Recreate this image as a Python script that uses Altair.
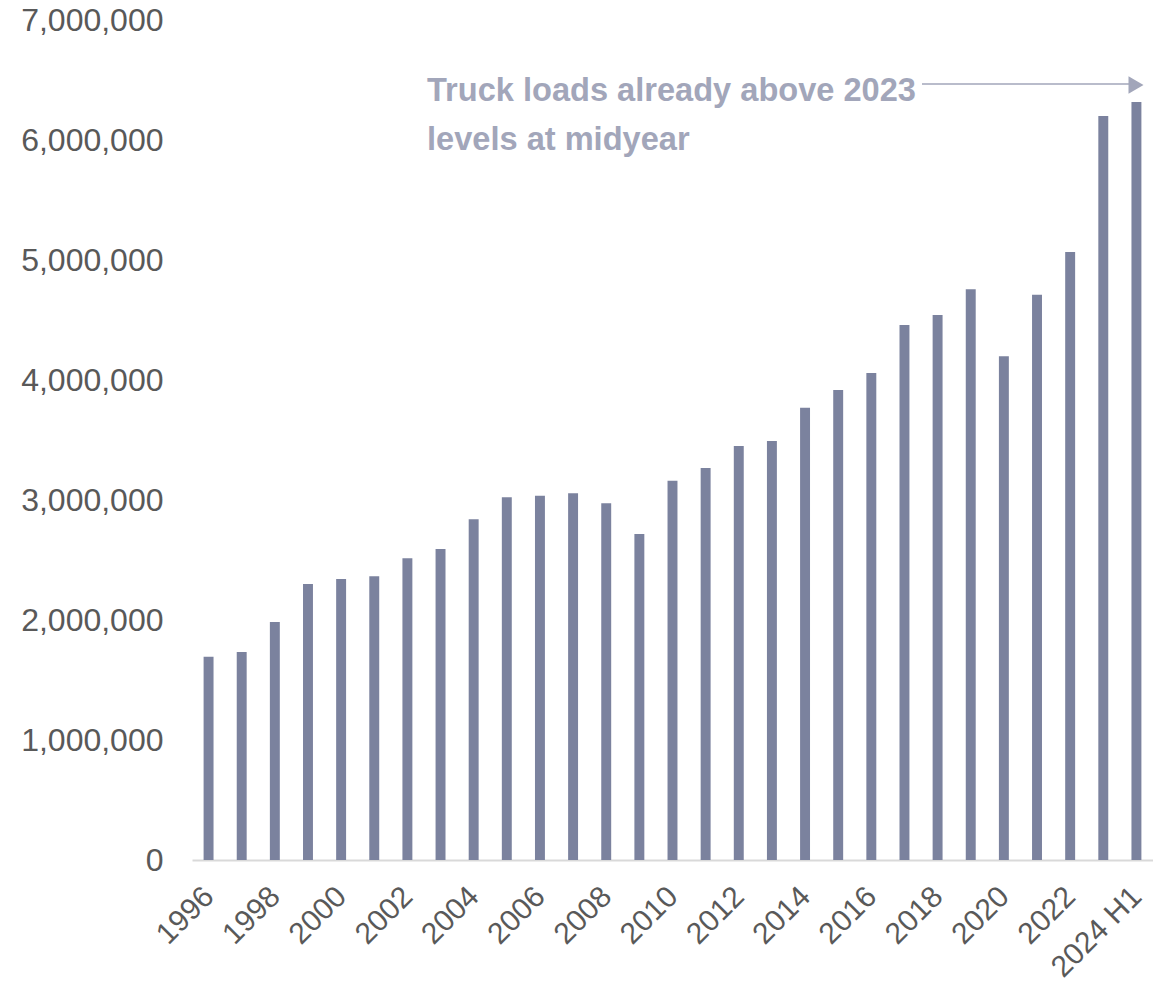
import altair as alt
import pandas as pd

years = ["1996", "1997", "1998", "1999", "2000", "2001", "2002", "2003", "2004",
         "2005", "2006", "2007", "2008", "2009", "2010", "2011", "2012", "2013",
         "2014", "2015", "2016", "2017", "2018", "2019", "2020", "2021", "2022",
         "2023", "2024 H1"]
loads = [1694000, 1733000, 1983000, 2300000, 2342000, 2364000, 2514000, 2592000,
         2839000, 3022000, 3036000, 3056000, 2972000, 2717000, 3161000, 3267000,
         3450000, 3492000, 3769000, 3917000, 4058000, 4458000, 4542000, 4756000,
         4197000, 4711000, 5067000, 6200000, 6317000]
y_ticks = [0, 1000000, 2000000, 3000000, 4000000, 5000000, 6000000, 7000000]
annotation_lines = ["Truck loads already above 2023", "levels at midyear"]

df = pd.DataFrame({"year": years, "loads": loads})

FONT = "Liberation Sans"
BAR = "#7b829e"
NOTE = "#a2a6ba"

x_enc = alt.X("year:N", sort=None, title=None,
              scale=alt.Scale(paddingInner=0.7, paddingOuter=0.35),
              axis=alt.Axis(values=years[::2], labelAngle=-45, labelAlign="right",
                            labelBaseline="top", labelFontSize=30, labelColor="#595959",
                            labelFont=FONT, labelPadding=21, labelOffset=-10,
                            ticks=False, tickSize=0, domainColor="#d9d9d9",
                            domainWidth=2, grid=False))
y_enc = alt.Y("loads:Q", title=None,
              scale=alt.Scale(domain=[0, 7000000], nice=False),
              axis=alt.Axis(values=y_ticks, format=",d", labelFontSize=32,
                            labelColor="#595959", labelFont=FONT, labelPadding=29,
                            ticks=False, domain=False, grid=False))

bars = alt.Chart(df).mark_bar(color=BAR).encode(x=x_enc, y=y_enc)

note_df = pd.DataFrame({"t": [annotation_lines]})
note = alt.Chart(note_df).mark_text(
    align="left", baseline="alphabetic", font=FONT, fontSize=32.6, fontWeight="bold",
    color=NOTE, lineHeight=49
).encode(text="t:N", x=alt.value(235), y=alt.value(81))

arrow_line = alt.Chart(note_df).mark_rule(color=NOTE, strokeWidth=1.5).encode(
    x=alt.value(730), x2=alt.value(940), y=alt.value(64))
arrow_head = alt.Chart(note_df).mark_point(
    shape="triangle-right", filled=True, color=NOTE, opacity=1, size=300
).encode(x=alt.value(944), y=alt.value(65))

chart = alt.layer(bars, arrow_line, arrow_head, note).properties(
    width=961, height=840,
    autosize=alt.AutoSizeParams(type="none"),
    padding={"left": 192, "top": 20, "right": 0, "bottom": 129},
).configure_view(stroke=None)

chart.save("out.html", embed_options={"renderer": "svg", "actions": False})
